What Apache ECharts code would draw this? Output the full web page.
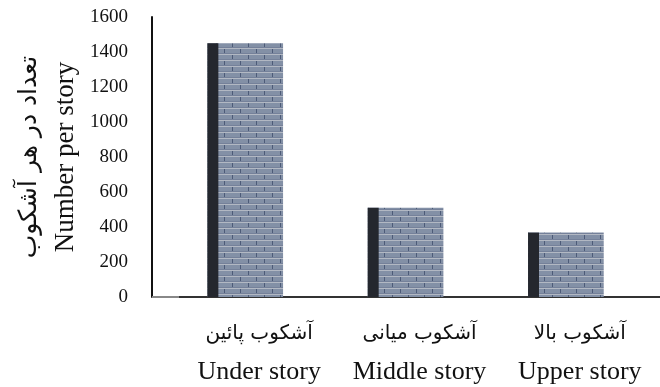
<!DOCTYPE html>
<html>
<head>
<meta charset="utf-8">
<script src="https://cdn.jsdelivr.net/npm/echarts@6/dist/echarts.min.js"></script>
<style>
  html, body { margin: 0; padding: 0; background: #fff; }
  #chart { width: 660px; height: 387px; }
</style>
</head>
<body>
<div id="chart"></div>
<script>
// Number of trees in each forest story
const categoriesFa = ['آشکوب پائین', 'آشکوب میانی', 'آشکوب بالا'];
const categoriesEn = ['Under story', 'Middle story', 'Upper story'];
const counts = [1450, 510, 368];
const yTicks = [0, 200, 400, 600, 800, 1000, 1200, 1400, 1600];

const axisTitleFa = 'تعداد در هر آشکوب';
const axisTitleEn = 'Number per story';

// Brick texture tile for the bar faces
function brickTile() {
  const c = document.createElement('canvas');
  c.width = 16; c.height = 12;
  const g = c.getContext('2d');
  g.fillStyle = '#8390a6';
  g.fillRect(0, 0, 16, 12);
  // mortar rows
  g.fillStyle = '#b2b8c3';
  g.fillRect(0, 0, 16, 1);
  g.fillRect(0, 6, 16, 1);
  g.fillStyle = '#75819a';
  g.fillRect(0, 5, 16, 1);
  g.fillRect(0, 11, 16, 1);
  // staggered head joints
  g.fillStyle = '#4d5b78';
  g.fillRect(0, 1, 1, 4);
  g.fillRect(8, 7, 1, 4);
  return c;
}
const brickPattern = { image: brickTile(), repeat: 'repeat' };

const serif = '"Liberation Serif", "DejaVu Serif", serif';
const arabic = '"DejaVu Sans", sans-serif';

const chart = echarts.init(document.getElementById('chart'), null, { renderer: 'canvas' });

chart.setOption({
  animation: false,
  backgroundColor: '#ffffff',
  grid: { left: 179, width: 483, top: 17, bottom: 90 },
  xAxis: {
    type: 'category',
    data: categoriesEn.map((en, i) => categoriesFa[i] + '\n' + en),
    axisLine: { show: true, lineStyle: { color: '#333', width: 2 } },
    axisTick: { show: false },
    axisLabel: {
      margin: 18,
      interval: 0,
      formatter: function (v) {
        const parts = v.split('\n');
        return '{fa|' + parts[0] + '}\n{en|' + parts[1] + '}';
      },
      rich: {
        fa: { fontFamily: arabic, fontSize: 20, color: '#111', lineHeight: 38 },
        en: { fontFamily: serif, fontSize: 26, color: '#111', lineHeight: 38 }
      }
    }
  },
  yAxis: {
    type: 'value',
    min: yTicks[0],
    max: yTicks[yTicks.length - 1],
    interval: yTicks[1] - yTicks[0],
    offset: 27,
    splitLine: { show: false },
    axisLine: { show: true, lineStyle: { color: '#111', width: 2 } },
    axisTick: { show: false },
    axisLabel: {
      margin: 24, fontFamily: serif, fontSize: 19, color: '#111',
      formatter: function (v) { return String(v); }
    },
    name: '{fa|' + axisTitleFa + '}\n{en|' + axisTitleEn + '}',
    nameLocation: 'middle',
    nameGap: 68,
    nameRotate: 90,
    nameTextStyle: {
      rich: {
        fa: { fontFamily: arabic, fontSize: 25, color: '#111', lineHeight: 36 },
        en: { fontFamily: serif, fontSize: 27, color: '#111', lineHeight: 36 }
      }
    }
  },
  series: [{
    type: 'custom',
    data: counts.map((v, i) => [i, v]),
    encode: { x: 0, y: 1 },
    renderItem: function (params, api) {
      const top = api.coord([api.value(0), api.value(1)]);
      const base = api.coord([api.value(0), 0]);
      const band = api.size([1, 0])[0];
      const w = band * 0.472;
      const side = w * 0.145;
      // bars sit slightly left of the category centre
      const x0 = top[0] - band * 0.087 - w / 2;
      const h = base[1] - top[1];
      return {
        type: 'group',
        children: [
          { type: 'rect', shape: { x: x0, y: top[1], width: w, height: h },
            style: { fill: brickPattern } },
          { type: 'rect', shape: { x: x0, y: top[1], width: side, height: h },
            style: { fill: '#24272e' } }
        ]
      };
    },
    z: 1
  }]
});

// Thin lead-in of the baseline between the value axis and the plot area
const y0 = chart.convertToPixel({ yAxisIndex: 0 }, 0);
chart.setOption({
  graphic: [
    { type: 'line', shape: { x1: 152, y1: y0, x2: 179, y2: y0 },
      style: { stroke: '#888', lineWidth: 2 }, z: 10 }
  ]
});
</script>
</body>
</html>
